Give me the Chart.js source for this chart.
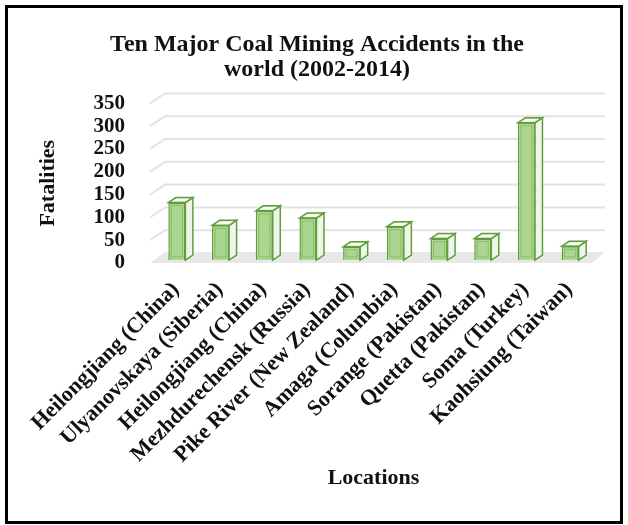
<!DOCTYPE html>
<html>
<head>
<meta charset="utf-8">
<script src="https://cdn.jsdelivr.net/npm/chart.js@4"></script>
<style>
  html, body { margin: 0; padding: 0; background: #fff; }
  #wrap { position: relative; width: 628px; height: 525px; }
  #frame { position: absolute; left: 5px; top: 5px; width: 618px; height: 519px;
           box-sizing: border-box; border: 3px solid #000; pointer-events: none; }
</style>
</head>
<body>
<div id="wrap">
  <canvas id="chart" width="628" height="525"></canvas>
  <div id="frame"></div>
</div>
<script>
const locations = [
  'Heilongjiang (China)', 'Ulyanovskaya (Siberia)', 'Heilongjiang (China)',
  'Mezhdurechensk (Russia)', 'Pike River (New Zealand)', 'Amaga (Columbia)',
  'Sorange (Pakistan)', 'Quetta (Pakistan)', 'Soma (Turkey)', 'Kaohsiung (Taiwan)'
];
const fatalities = [126, 76, 108, 92, 29, 73, 47, 47, 301, 30];
const yTicks = [0, 50, 100, 150, 200, 250, 300, 350];

const SERIF = '"Liberation Serif", "Times New Roman", serif';
const DEPTH_X = 7.5, DEPTH_Y = 5;

// back wall gridlines + floor, drawn in a fake perspective
const wallPlugin = {
  id: 'wall3d',
  beforeDatasetsDraw(chart){
    const ctx = chart.ctx;
    const y = chart.scales.y;
    const { left, right } = chart.chartArea;
    ctx.save();
    const y0 = y.getPixelForValue(0);
    ctx.fillStyle = '#e8e8e8';
    ctx.beginPath();
    ctx.moveTo(left - 5, y0);
    ctx.lineTo(left + 10, y0 - 11);
    ctx.lineTo(right + 13, y0 - 11);
    ctx.lineTo(right, y0);
    ctx.closePath();
    ctx.fill();
    ctx.strokeStyle = '#e3e3e3';
    ctx.lineWidth = 2;
    yTicks.forEach(v => {
      if (v === 0) return;
      const py = y.getPixelForValue(v);
      ctx.beginPath();
      ctx.moveTo(left - 5, py);
      ctx.lineTo(left + 10, py - 10);
      ctx.lineTo(right + 13, py - 10);
      ctx.stroke();
    });
    // bars sit a little back from the front edge of the floor
    ctx.translate(0, -3);
  },
  afterDatasetsDraw(chart){
    const ctx = chart.ctx;
    chart.getDatasetMeta(0).data.forEach(bar => {
      const xl = bar.x - bar.width / 2, xr = bar.x + bar.width / 2;
      const top = bar.y, base = bar.base;
      ctx.lineWidth = 1.5;
      ctx.strokeStyle = '#5f9e3c';
      // side face
      ctx.fillStyle = '#eef5ea';
      ctx.beginPath();
      ctx.moveTo(xr, top);
      ctx.lineTo(xr + DEPTH_X, top - DEPTH_Y);
      ctx.lineTo(xr + DEPTH_X, base - DEPTH_Y);
      ctx.lineTo(xr, base);
      ctx.closePath();
      ctx.fill();
      ctx.stroke();
      // top face
      ctx.fillStyle = '#c9e4b4';
      ctx.beginPath();
      ctx.moveTo(xl, top);
      ctx.lineTo(xl + DEPTH_X, top - DEPTH_Y);
      ctx.lineTo(xr + DEPTH_X, top - DEPTH_Y);
      ctx.lineTo(xr, top);
      ctx.closePath();
      ctx.fill();
      ctx.stroke();
      ctx.fillStyle = '#ffffff';
      ctx.beginPath();
      ctx.moveTo(xl + 3.5, top - 1.2);
      ctx.lineTo(xl + DEPTH_X + 0.5, top - DEPTH_Y + 1.2);
      ctx.lineTo(xr + DEPTH_X - 3.5, top - DEPTH_Y + 1.2);
      ctx.lineTo(xr - 0.5, top - 1.2);
      ctx.closePath();
      ctx.fill();
      // inner line on the front face
      ctx.strokeStyle = 'rgba(95,158,60,0.45)';
      ctx.lineWidth = 1;
      ctx.strokeRect(xl + 3, top + 3, bar.width - 6, base - top - 6);
    });
    ctx.restore();
  }
};

new Chart(document.getElementById('chart'), {
  type: 'bar',
  data: {
    labels: locations,
    datasets: [{
      label: 'Fatalities',
      data: fatalities,
      backgroundColor: '#acd68f',
      borderColor: '#5f9e3c',
      borderWidth: 1.5,
      barPercentage: 0.39,
      categoryPercentage: 1
    }]
  },
  options: {
    responsive: false,
    animation: false,
    layout: { padding: { left: 42, right: 36, top: 0, bottom: 38 } },
    plugins: {
      legend: { display: false },
      tooltip: { enabled: false },
      title: {
        display: true,
        text: ['Ten Major Coal Mining Accidents in the', 'world (2002-2014)'],
        color: '#111',
        font: { family: SERIF, size: 24, weight: 'bold', lineHeight: 1.05 },
        padding: { top: 32, bottom: 21 }
      }
    },
    scales: {
      x: {
        grid: { display: false },
        border: { display: false },
        afterFit(scale){
          scale.paddingLeft = 0;
          scale.paddingRight = 0;
          scale.height = 224;
        },
        ticks: {
          color: '#111',
          font: { family: SERIF, size: 22, weight: 'bold' },
          minRotation: 45,
          maxRotation: 45,
          autoSkip: false,
          padding: 6,
          labelOffset: -1
        },
        title: {
          display: true,
          text: 'Locations',
          color: '#111',
          font: { family: SERIF, size: 22, weight: 'bold', lineHeight: 0.82 },
          padding: { top: 0, bottom: 0 }
        }
      },
      y: {
        min: 0,
        max: 350,
        grid: { display: false },
        border: { display: false },
        afterBuildTicks(scale){ scale.ticks = yTicks.map(v => ({ value: v })); },
        afterFit(scale){ scale.width = 113; },
        ticks: {
          color: '#111',
          font: { family: SERIF, size: 21, weight: 'bold' },
          padding: 22,
          autoSkip: false
        },
        title: {
          display: true,
          text: 'Fatalities',
          color: '#111',
          font: { family: SERIF, size: 22, weight: 'bold' },
          padding: { top: -7, bottom: 7 }
        }
      }
    }
  },
  plugins: [wallPlugin]
});
</script>
</body>
</html>
